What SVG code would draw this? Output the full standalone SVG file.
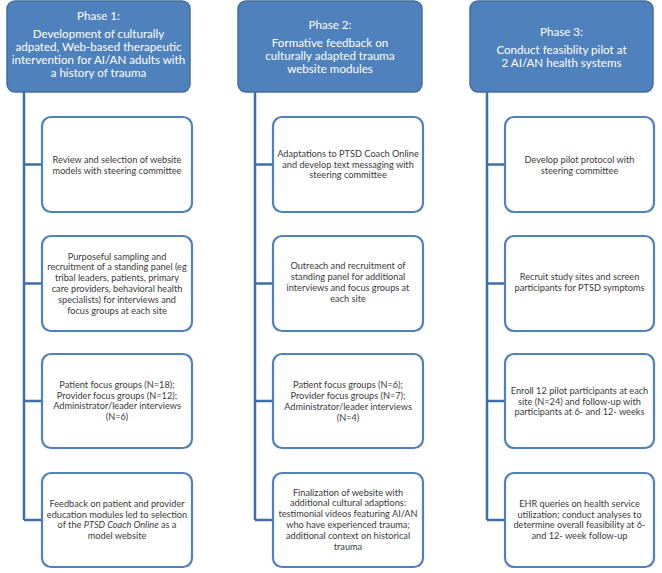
<svg xmlns="http://www.w3.org/2000/svg" width="662" height="573" viewBox="0 0 662 573">
<style>
.hdr{fill:#4f81bd;stroke:#41709f;stroke-width:1.5}
.box{fill:#ffffff;stroke:#4f81bd;stroke-width:2.2}
.ht{font-family:Lato,"Liberation Sans",sans-serif;font-size:11.6px;fill:#ffffff;text-anchor:middle}
.bt{font-family:Lato,"Liberation Sans",sans-serif;font-size:9.2px;fill:#3a3a3a;text-anchor:middle}
.con{stroke:#3f6ea6;stroke-width:2.5;fill:none}
</style>
<rect width="662" height="573" fill="#ffffff"/>
<g id="connectors">
<path class="con" d="M24 92V520M24 164.5H42M24 283.5H42M24 401H42M24 520H42"/>
<path class="con" d="M255 92V520M255 164.5H273M255 283.5H273M255 401H273M255 520H273"/>
<path class="con" d="M487 92V520M487 164.5H505M487 283.5H505M487 401H505M487 520H505"/>
</g>
<g id="phase1">
<rect class="hdr" x="7" y="1" width="183" height="91" rx="8"/>
<text class="ht" x="98.5" y="20">Phase 1:</text>
<text class="ht" x="98.5" y="37.5">Development of culturally</text>
<text class="ht" x="98.5" y="50.5">adpated, Web-based therapeutic</text>
<text class="ht" x="98.5" y="63.5">intervention for AI/AN adults with</text>
<text class="ht" x="98.5" y="76.5">a history of trauma</text>
</g>
<g id="phase2">
<rect class="hdr" x="238" y="1" width="184" height="91" rx="8"/>
<text class="ht" x="330" y="28.5">Phase 2:</text>
<text class="ht" x="330" y="46.5">Formative feedback on</text>
<text class="ht" x="330" y="59.5">culturally adapted trauma</text>
<text class="ht" x="330" y="72.5">website modules</text>
</g>
<g id="phase3">
<rect class="hdr" x="470" y="1" width="183" height="91" rx="8"/>
<text class="ht" x="561.5" y="35.5">Phase 3:</text>
<text class="ht" x="561.5" y="53.5">Conduct feasiblity pilot at</text>
<text class="ht" x="561.5" y="66.5">2 AI/AN health systems</text>
</g>
<g id="p1b1">
<rect class="box" x="42" y="117" width="150" height="95" rx="9"/>
<text class="bt" x="117" y="162.5">Review and selection of website</text>
<text class="bt" x="117" y="173.5">models with steering committee</text>
</g>
<g id="p1b2">
<rect class="box" x="42" y="236" width="150" height="95" rx="9"/>
<text class="bt" x="117" y="259.5">Purposeful sampling and</text>
<text class="bt" x="117" y="270.3">recruitment of a standing panel (eg</text>
<text class="bt" x="117" y="281.1">tribal leaders, patients, primary</text>
<text class="bt" x="117" y="291.9">care providers, behavioral health</text>
<text class="bt" x="117" y="302.7">specialists) for interviews and</text>
<text class="bt" x="117" y="313.5">focus groups at each site</text>
</g>
<g id="p1b3">
<rect class="box" x="42" y="354" width="150" height="94" rx="9"/>
<text class="bt" x="117" y="387.8">Patient focus groups (N=18);</text>
<text class="bt" x="117" y="398.6">Provider focus groups (N=12);</text>
<text class="bt" x="117" y="409.4">Administrator/leader interviews</text>
<text class="bt" x="117" y="420.2">(N=6)</text>
</g>
<g id="p1b4">
<rect class="box" x="42" y="473" width="150" height="94" rx="9"/>
<text class="bt" x="117" y="506.8">Feedback on patient  and provider</text>
<text class="bt" x="117" y="517.6">education modules led to selection</text>
<text class="bt" x="117" y="528.4">of the <tspan font-style="italic">PTSD Coach Online</tspan> as a</text>
<text class="bt" x="117" y="539.2">model website</text>
</g>
<g id="p2b1">
<rect class="box" x="273" y="117" width="150" height="95" rx="9"/>
<text class="bt" x="348" y="156.7">Adaptations to PTSD Coach Online</text>
<text class="bt" x="348" y="167.5">and develop text messaging with</text>
<text class="bt" x="348" y="178.3">steering committee</text>
</g>
<g id="p2b2">
<rect class="box" x="273" y="236" width="150" height="95" rx="9"/>
<text class="bt" x="348" y="269.3">Outreach and recruitment of</text>
<text class="bt" x="348" y="280.1">standing panel for additional</text>
<text class="bt" x="348" y="290.9">interviews and focus groups at</text>
<text class="bt" x="348" y="301.7">each site</text>
</g>
<g id="p2b3">
<rect class="box" x="273" y="354" width="150" height="94" rx="9"/>
<text class="bt" x="348" y="388.3">Patient focus groups (N=6);</text>
<text class="bt" x="348" y="399.1">Provider focus groups (N=7);</text>
<text class="bt" x="348" y="409.9">Administrator/leader interviews</text>
<text class="bt" x="348" y="420.7">(N=4)</text>
</g>
<g id="p2b4">
<rect class="box" x="273" y="473" width="150" height="94" rx="9"/>
<text class="bt" x="348" y="495.5">Finalization of website with</text>
<text class="bt" x="348" y="506.3">additional cultural adaptions:</text>
<text class="bt" x="348" y="517.1">testimonial videos featuring AI/AN</text>
<text class="bt" x="348" y="527.9">who have experienced  trauma;</text>
<text class="bt" x="348" y="538.7">additional context on historical</text>
<text class="bt" x="348" y="549.5">trauma</text>
</g>
<g id="p3b1">
<rect class="box" x="505" y="117" width="149" height="95" rx="9"/>
<text class="bt" x="579.5" y="162.5">Develop pilot protocol with</text>
<text class="bt" x="579.5" y="173.5">steering committee</text>
</g>
<g id="p3b2">
<rect class="box" x="505" y="236" width="149" height="95" rx="9"/>
<text class="bt" x="579.5" y="280.1">Recruit study sites and screen</text>
<text class="bt" x="579.5" y="290.9">participants for PTSD symptoms</text>
</g>
<g id="p3b3">
<rect class="box" x="505" y="354" width="149" height="94" rx="9"/>
<text class="bt" x="579.5" y="393.7">Enroll 12 pilot participants at each</text>
<text class="bt" x="579.5" y="404.5">site (N=24) and follow-up with</text>
<text class="bt" x="579.5" y="415.3">participants at 6- and 12- weeks</text>
</g>
<g id="p3b4">
<rect class="box" x="505" y="473" width="149" height="94" rx="9"/>
<text class="bt" x="579.5" y="506.8">EHR queries on health service</text>
<text class="bt" x="579.5" y="517.6">utilization; conduct analyses to</text>
<text class="bt" x="579.5" y="528.4">determine overall feasibility at 6-</text>
<text class="bt" x="579.5" y="539.2">and 12- week follow-up</text>
</g>
</svg>
